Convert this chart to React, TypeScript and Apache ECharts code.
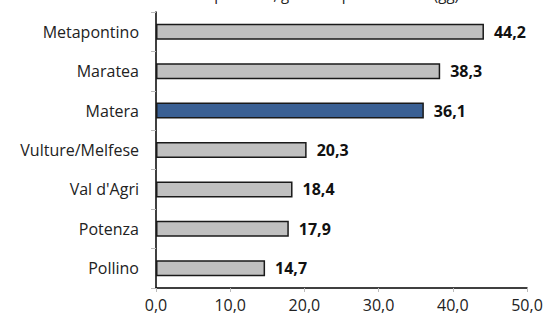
import React, { useEffect, useRef } from "react";
import * as echarts from "echarts";

const categories = ["Metapontino", "Maratea", "Matera", "Vulture/Melfese", "Val d'Agri", "Potenza", "Pollino"];
const values = [44.2, 38.3, 36.1, 20.3, 18.4, 17.9, 14.7];
const highlighted = ["Matera"];
const titleText = "Permanenza media per area, giorni di permanenza (gg)";

const FONT = "'Open Sans', 'Noto Sans', sans-serif";
const fmt = (v: number) => v.toFixed(1).replace(".", ",");

export default function App() {
  const ref = useRef<HTMLDivElement>(null);
  useEffect(() => {
    if (!ref.current) return;
    const chart = echarts.init(ref.current, null, { renderer: "svg" });
    chart.setOption({
      animation: false,
      backgroundColor: "#ffffff",
      title: {
        text: titleText,
        left: 262,
        textAlign: "center",
        top: -19,
        textStyle: { fontFamily: FONT, fontSize: 15, fontWeight: "normal", color: "#222" },
      },
      grid: { left: 156, right: 22, top: 12, bottom: 32, containLabel: false },
      xAxis: {
        type: "value",
        min: 0,
        max: 50,
        interval: 10,
        axisLine: { show: true, lineStyle: { color: "#000", width: 1.5 } },
        axisTick: { show: true, length: 4, lineStyle: { color: "#bbb" } },
        splitLine: { show: false },
        axisLabel: {
          formatter: (v: number) => fmt(v),
          fontFamily: FONT,
          fontSize: 16,
          color: "#222",
          margin: 9,
        },
      },
      yAxis: {
        type: "category",
        data: categories,
        inverse: true,
        axisLine: { show: true, lineStyle: { color: "#000", width: 1.5 } },
        axisTick: { show: true, length: 5, lineStyle: { color: "#bbb" } },
        axisLabel: { fontFamily: FONT, fontSize: 16, color: "#222", margin: 17 },
      },
      series: [
        {
          type: "bar",
          barWidth: 16,
          data: values.map((v, i) => ({
            value: v,
            itemStyle: {
              color: highlighted.includes(categories[i]) ? "#3a6094" : "#c0c0c0",
              borderColor: "#1a1a1a",
              borderWidth: 1.5,
            },
          })),
          label: {
            show: true,
            position: "right",
            distance: 10,
            formatter: (p: any) => fmt(p.value),
            fontFamily: FONT,
            fontSize: 16,
            fontWeight: "bold",
            color: "#111",
          },
        },
      ],
    });
    return () => chart.dispose();
  }, []);
  return <div ref={ref} style={{ width: 549, height: 320, position: "absolute", left: 0, top: 0 }} />;
}
